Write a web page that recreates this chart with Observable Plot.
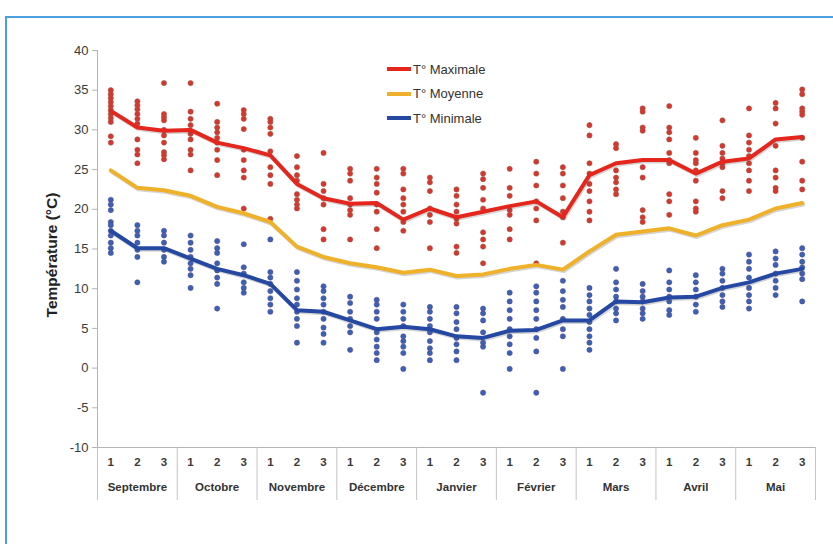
<!DOCTYPE html>
<html>
<head>
<meta charset="utf-8">
<script src="https://cdn.jsdelivr.net/npm/d3@7"></script>
<script src="https://cdn.jsdelivr.net/npm/@observablehq/plot@0.6"></script>
<style>
  html, body { margin: 0; padding: 0; background: #fff; overflow: hidden; }
  #wrap { position: relative; width: 833px; height: 544px; font-family: "Liberation Sans", Arial, sans-serif; }
  #frame { position: absolute; left: 5px; top: 16px; width: 900px; height: 600px; border: 2px solid #4b9fdc; box-sizing: border-box; }
  #chart { position: absolute; left: 0; top: 0; }
  #legend { position: absolute; left: 387px; top: 57px; font-size: 13px; color: #333; }
  .li { display: flex; align-items: center; height: 24.5px; }
  .sw { width: 24px; height: 4px; margin-right: 2px; }
</style>
</head>
<body>
<div id="wrap">
  <div id="frame"></div>
  <div id="chart"></div>
  <div id="legend"></div>
</div>
<script>
const months = ["Septembre","Octobre","Novembre","Décembre","Janvier","Février","Mars","Avril","Mai"];
const dekadLabels = ["1","2","3"];
const yTicks = [-10,-5,0,5,10,15,20,25,30,35,40];
const seriesNames = ["T° Maximale","T° Moyenne","T° Minimale"];
const seriesColors = ["#e4261d","#f0b12a","#2548a2"];

const tMax = [32.4,30.3,29.9,30.0,28.4,27.7,26.8,23.2,21.4,20.7,20.8,18.7,20.1,19.0,19.7,20.4,21.0,19.0,24.3,25.8,26.2,26.2,24.5,26.0,26.4,28.8,29.1];
const tMoy = [24.9,22.7,22.4,21.7,20.3,19.5,18.4,15.3,14.0,13.2,12.7,12.0,12.4,11.6,11.8,12.5,13.0,12.4,14.7,16.8,17.2,17.6,16.7,18.0,18.7,20.1,20.8];
const tMin = [17.3,15.1,15.1,13.8,12.5,11.7,10.6,7.3,7.1,6.0,4.9,5.2,4.9,4.0,3.8,4.7,4.8,6.0,6.0,8.4,8.3,8.9,9.0,10.1,10.8,11.9,12.5];

const maxYears = [
  [35.0,34.5,34.0,33.5,33.0,32.5,32.0,31.5,31.0,29.2,28.4],
  [33.6,33.1,32.6,32.0,31.4,30.8,28.8,27.5,26.9,25.8],
  [35.9,32.0,31.6,31.2,30.0,29.3,28.4,27.2,26.8,26.3],
  [35.9,32.3,31.4,30.6,29.5,28.8,27.5,26.9,24.9],
  [33.3,31.0,30.3,29.7,29.0,28.4,27.5,26.2,24.3],
  [32.5,32.0,31.4,30.1,27.5,26.2,24.9,24.0,20.1],
  [31.4,31.0,30.3,29.5,27.3,25.3,24.3,23.2,18.8],
  [26.7,25.3,24.3,23.6,21.9,21.2,20.6,20.1],
  [27.1,23.2,22.3,21.4,20.6,17.5,16.2],
  [25.1,24.5,23.6,21.4,20.6,19.9,19.3,16.2],
  [25.1,24.0,23.2,22.1,20.6,19.7,17.5,15.1],
  [25.1,24.5,22.5,21.4,20.6,19.7,18.4,17.3],
  [24.0,23.4,22.3,20.1,19.3,18.4,15.1],
  [22.5,21.7,20.6,19.7,18.8,18.2,15.3,14.5],
  [24.5,23.8,22.7,21.2,20.1,17.1,16.2,15.3,13.2],
  [25.1,22.7,21.7,19.9,19.3,17.5,16.2],
  [26.0,24.5,23.0,21.0,20.1,18.6,13.2],
  [25.3,24.5,23.0,21.4,19.7,19.0,15.8],
  [30.6,29.3,25.8,24.5,23.2,22.3,21.0,19.7,18.6],
  [28.2,27.7,24.9,24.0,23.4,22.5,21.9],
  [32.7,32.3,30.3,29.9,25.3,24.0,19.9,19.0,18.4],
  [33.0,30.3,29.7,28.8,27.1,26.2,25.8,21.9,21.0,19.3],
  [29.0,27.1,26.2,25.8,24.9,23.6,21.0,20.1,19.7],
  [31.2,28.0,27.1,26.4,25.8,25.3,22.3,21.4],
  [32.7,29.3,28.4,27.5,26.7,25.8,24.9,23.6,22.3],
  [33.4,32.7,30.8,28.0,24.9,24.0,22.7,22.3],
  [35.1,34.5,32.7,32.3,31.9,29.0,26.0,23.6,22.5]
];
const minYears = [
  [21.2,20.6,19.9,18.4,18.0,17.3,16.7,15.8,15.1,14.5],
  [18.0,17.3,16.7,15.8,14.9,14.0,10.8],
  [17.3,16.7,15.8,14.9,14.0,13.4],
  [16.7,15.8,14.9,14.0,13.2,12.5,11.7,10.1],
  [16.0,15.1,14.5,13.2,12.3,11.4,10.6,7.5],
  [15.6,12.7,11.9,10.8,10.1,9.5],
  [16.2,12.1,11.4,10.6,9.7,8.8,8.0,7.1],
  [12.1,11.0,9.9,8.8,8.0,7.1,6.2,5.3,3.2],
  [10.3,9.7,8.8,8.0,7.1,6.2,5.1,4.3,3.2],
  [9.0,8.2,7.1,6.2,5.3,4.5,2.3],
  [8.6,8.0,7.1,6.2,4.5,3.6,2.7,1.9,1.0],
  [8.0,7.1,6.2,5.3,4.0,3.4,2.7,1.9,-0.1],
  [7.7,7.1,6.2,5.3,4.5,3.4,2.5,1.9,1.0],
  [7.7,6.9,5.8,4.9,3.8,3.0,2.1,1.0],
  [7.5,6.9,6.0,4.5,3.2,2.7,-3.1],
  [9.5,8.4,7.3,6.2,4.9,4.0,3.0,1.9,-0.1],
  [10.3,9.5,8.4,7.3,6.2,4.9,3.8,2.1,-3.1],
  [11.0,9.7,8.6,7.7,6.2,4.9,4.0,-0.1],
  [10.1,9.2,8.4,7.5,6.7,5.8,4.9,4.0,3.2,2.3],
  [12.5,10.8,9.9,9.0,8.4,7.5,6.9,6.0],
  [10.6,9.7,9.0,8.4,7.5,6.9,6.2],
  [12.3,10.8,9.9,9.0,8.4,7.3,6.7],
  [11.7,10.8,9.9,9.0,8.0,7.1],
  [12.5,11.9,11.0,10.1,9.2,8.4,7.7],
  [14.3,13.4,12.5,11.4,10.1,9.2,8.4,7.5],
  [14.7,13.8,13.0,11.9,11.0,10.1,9.2],
  [15.1,14.3,13.4,12.7,11.9,11.2,8.4]
];

// derived tables
const nD = months.length * 3;
const dekads = d3.range(nD).map(i => ({x: i + 0.5, lab: dekadLabels[i % 3], max: tMax[i], moy: tMoy[i], min: tMin[i]}));
const monthRows = months.map((m, j) => ({x: j * 3 + 1.5, m}));
const seps = d3.range(0, nD + 1, 3);
const maxDots = maxYears.flatMap((arr, i) => arr.map(v => ({x: i + 0.5, v})));
const minDots = minYears.flatMap((arr, i) => arr.map(v => ({x: i + 0.5, v})));

const chart = Plot.plot({
  width: 833,
  height: 544,
  marginLeft: 97,
  marginRight: 18,
  marginTop: 50,
  marginBottom: 97,
  style: {fontFamily: "'Liberation Sans', Arial, sans-serif", background: "transparent", overflow: "visible"},
  x: {domain: [0, nD], axis: null},
  y: {domain: [-10, 40], axis: null},
  marks: [
    // axis lines
    Plot.ruleX([0], {y1: -10, y2: 40, stroke: "#b4b4b4", strokeWidth: 1}),
    Plot.ruleY([-10], {x1: 0, x2: nD, stroke: "#b4b4b4", strokeWidth: 1}),
    Plot.ruleX(seps, {x: d => d, y1: -10, y2: -10, insetBottom: -53, stroke: "#c4c4c4", strokeWidth: 1}),
    Plot.axisY({ticks: yTicks, tickFormat: d => String(d), tickSize: 5, tickPadding: 4, fontSize: 13, color: "#3a3a3a", stroke: "#b4b4b4", label: null}),
    Plot.text(["Température (°C)"], {frameAnchor: "left", textAnchor: "middle", dx: -45, dy: 6, rotate: -90, text: d => d, fontWeight: "bold", fontSize: 15.5, fill: "#222"}),
    // dekad and month labels
    Plot.text(dekads, {x: "x", y: () => -10, text: "lab", dy: 15, fontSize: 11.5, fontWeight: "bold", fill: "#3a3a3a"}),
    Plot.text(monthRows, {x: "x", y: () => -10, text: "m", dy: 40, fontSize: 11.5, fontWeight: "bold", fill: "#333"}),
    // yearly points
    Plot.dot(maxDots, {x: "x", y: "v", r: 2.6, fill: "#d8352c", stroke: "#9a5a4a", strokeWidth: 0.8, strokeOpacity: 0.7}),
    Plot.dot(minDots, {x: "x", y: "v", r: 2.6, fill: "#3863b4", stroke: "#5a4694", strokeWidth: 0.8, strokeOpacity: 0.7}),
    // shadows
    Plot.line(dekads, {x: "x", y: "max", stroke: "#555", strokeWidth: 4, strokeOpacity: 0.25, dx: 1, dy: 1.5}),
    Plot.line(dekads, {x: "x", y: "moy", stroke: "#555", strokeWidth: 4, strokeOpacity: 0.25, dx: 1, dy: 1.5}),
    Plot.line(dekads, {x: "x", y: "min", stroke: "#555", strokeWidth: 4, strokeOpacity: 0.25, dx: 1, dy: 1.5}),
    // mean lines
    Plot.line(dekads, {x: "x", y: "max", stroke: seriesColors[0], strokeWidth: 4}),
    Plot.line(dekads, {x: "x", y: "moy", stroke: seriesColors[1], strokeWidth: 4}),
    Plot.line(dekads, {x: "x", y: "min", stroke: seriesColors[2], strokeWidth: 4})
  ]
});
document.getElementById("chart").appendChild(chart);

const legend = document.getElementById("legend");
seriesNames.forEach((n, i) => {
  const row = document.createElement("div");
  row.className = "li";
  const sw = document.createElement("span");
  sw.className = "sw";
  sw.style.background = seriesColors[i];
  const t = document.createElement("span");
  t.textContent = n;
  row.appendChild(sw);
  row.appendChild(t);
  legend.appendChild(row);
});
</script>
</body>
</html>
